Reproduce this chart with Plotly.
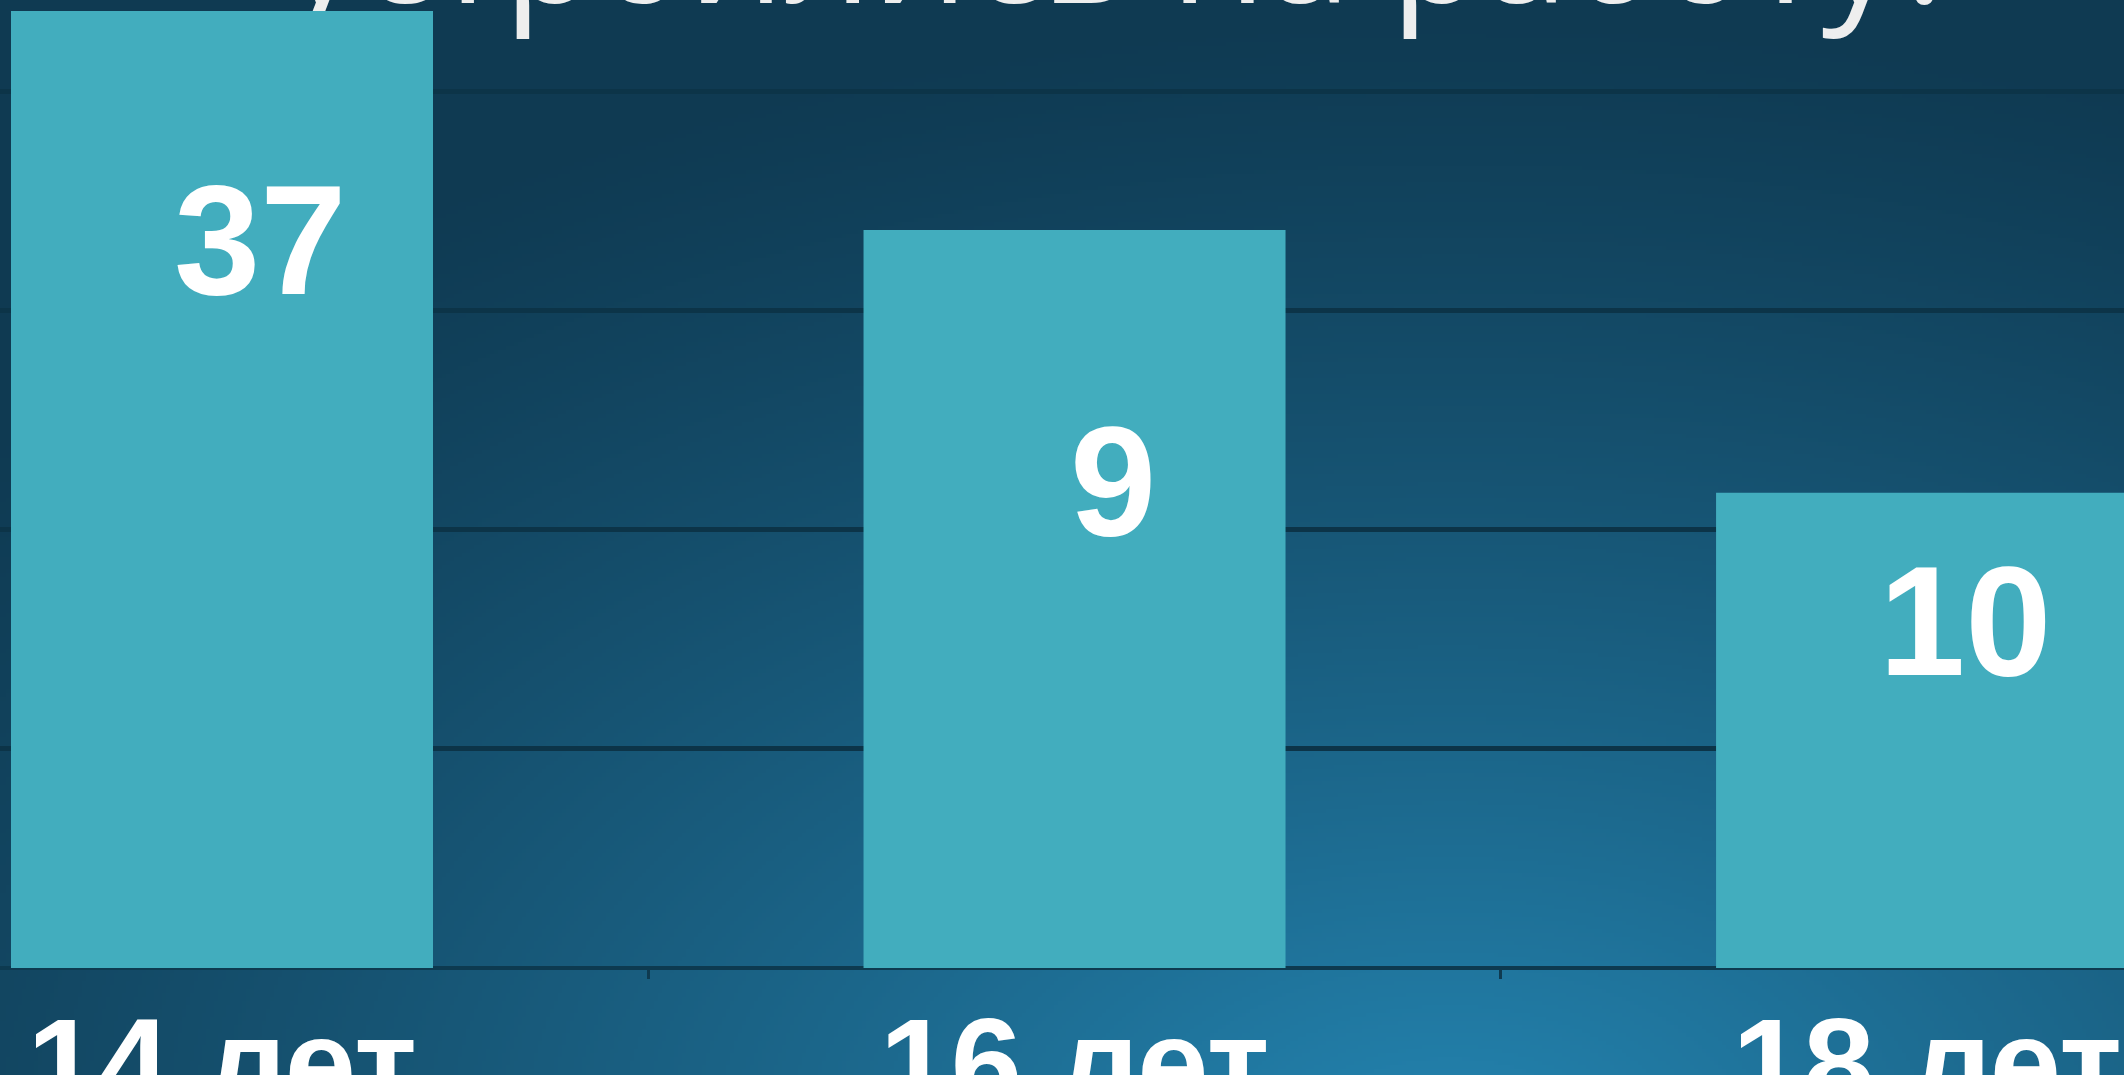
import base64
import struct
import zlib

import numpy as np
import plotly.graph_objects as go

# ---- data ----
categories = ["14 лет", "16 лет", "18 лет"]
bar_heights = [43.7, 33.7, 21.7]
bar_labels = ["37", "9", "10"]
label_levels = [33.2, 22.2, 15.8]
title_text = "устроились на работу?"

W_PX, H_PX = 2124, 1075


# ---- background gradient as a small PNG (styling only) ----
def make_png(arr):
    h, w, _ = arr.shape
    raw = b"".join(b"\x00" + arr[r].tobytes() for r in range(h))

    def chunk(tag, data):
        c = struct.pack(">I", len(data)) + tag + data
        return c + struct.pack(">I", zlib.crc32(tag + data) & 0xFFFFFFFF)

    return (b"\x89PNG\r\n\x1a\n"
            + chunk(b"IHDR", struct.pack(">IIBBBBB", w, h, 8, 2, 0, 0, 0))
            + chunk(b"IDAT", zlib.compress(raw, 9))
            + chunk(b"IEND", b""))


gw, gh = 531, 269
gx = np.linspace(0, W_PX, gw)[None, :]
gy = np.linspace(0, H_PX, gh)[:, None]
cx, cy, rx, ry = 1450.0, 1150.0, 1900.0, 1150.0
d = np.sqrt(((gx - cx) / rx) ** 2 + ((gy - cy) / ry) ** 2)
w = np.clip(1 - d, 0, 1) ** 1.2
dark = np.array([15, 58, 82], dtype=float)
light = np.array([36, 132, 176], dtype=float)
img = dark[None, None, :] + (light - dark)[None, None, :] * w[:, :, None]
img = np.clip(img, 0, 255).astype(np.uint8)
bg_uri = "data:image/png;base64," + base64.b64encode(make_png(img)).decode()

fig = go.Figure()
fig.add_trace(go.Bar(
    x=categories,
    y=bar_heights,
    width=0.495,
    marker=dict(color="#42adbe", line=dict(width=0)),
    hoverinfo="skip",
))

annotations = []
for cat, lvl, txt in zip(categories, label_levels, bar_labels):
    annotations.append(dict(
        x=cat, y=lvl, xref="x", yref="y", text=txt, showarrow=False,
        xshift=38, yanchor="middle",
        font=dict(family="Liberation Sans", size=155, color="#ffffff", weight="bold"),
    ))

fig.update_layout(
    width=W_PX, height=H_PX,
    margin=dict(l=0, r=0, t=0, b=0, autoexpand=False),
    paper_bgcolor="#0f3a52",
    plot_bgcolor="rgba(0,0,0,0)",
    showlegend=False,
    bargap=0.505,
    annotations=annotations,
    images=[dict(source=bg_uri, xref="paper", yref="paper", x=0, y=1,
                 sizex=1, sizey=1, sizing="stretch", layer="below")],
    shapes=[dict(
        type="rect", xref="paper", yref="paper",
        x0=0.132, x1=1.0, y0=1 - 58 / H_PX, y1=1.3,
        line=dict(width=0), fillcolor="rgba(0,0,0,0)", layer="below",
        label=dict(text=title_text, textposition="bottom left", padding=0,
                   font=dict(family="Open Sans", size=152, color="#eeeeee")),
    )],
    xaxis=dict(
        type="category",
        range=[-0.2604, 2.231],
        anchor="free", position=(H_PX - 968) / H_PX,
        automargin=False,
        tickson="boundaries", ticks="outside", ticklen=10, tickwidth=3,
        tickcolor="#0f3a50",
        showgrid=False, showline=False, zeroline=False,
        ticklabelstandoff=11,
        tickfont=dict(family="Liberation Sans", size=128, color="#ffffff", weight="bold"),
    ),
    yaxis=dict(
        range=[-4.886, 44.2],
        automargin=False,
        showticklabels=False,
        tick0=0, dtick=10,
        showgrid=True, gridcolor="#0c3448", gridwidth=5,
        zeroline=True, zerolinecolor="#0d3a50", zerolinewidth=4,
    ),
)

fig.write_html("out.html", config={"displayModeBar": False})
